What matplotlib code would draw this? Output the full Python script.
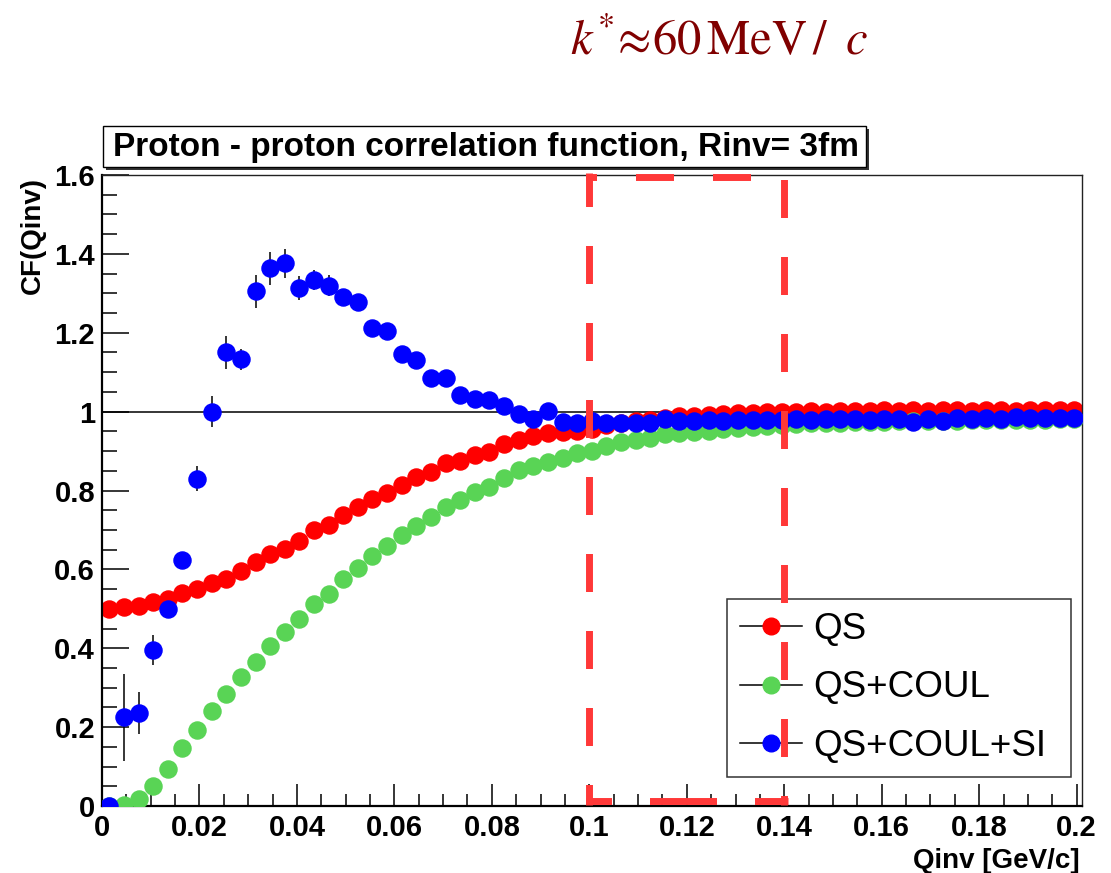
import numpy as np
import matplotlib
matplotlib.use("Agg")
from matplotlib import pyplot as plt
from matplotlib.patches import Rectangle
from matplotlib.lines import Line2D
from matplotlib.ticker import MultipleLocator, FuncFormatter

plt.rcParams['font.family'] = ['Liberation Sans', 'DejaVu Sans']
plt.rcParams['mathtext.fontset'] = 'stix'
plt.rcParams['lines.scale_dashes'] = False

W, H = 1111, 873

# histogram bins: 67 bins of 3 MeV/c
bin_width = 0.003
qinv = (np.arange(67) + 0.5) * bin_width

qs = [0.500, 0.505, 0.507, 0.517, 0.526, 0.541, 0.549, 0.565, 0.576, 0.596,
      0.618, 0.638, 0.652, 0.673, 0.700, 0.713, 0.738, 0.758, 0.779, 0.794,
      0.813, 0.835, 0.846, 0.869, 0.876, 0.889, 0.897, 0.918, 0.928, 0.939,
      0.945, 0.948, 0.952, 0.956, 0.965, 0.970, 0.975, 0.980, 0.985, 0.988,
      0.990, 0.992, 0.994, 0.996, 0.997, 0.998, 0.999, 1.000, 1.001, 1.000,
      1.002, 1.001, 1.002, 1.003, 1.002, 1.003, 1.002, 1.003, 1.003, 1.002,
      1.003, 1.003, 1.002, 1.003, 1.003, 1.003, 1.003]

qs_coul = [0.000, 0.003, 0.019, 0.051, 0.095, 0.146, 0.192, 0.240, 0.285, 0.327,
           0.365, 0.406, 0.440, 0.473, 0.513, 0.538, 0.575, 0.603, 0.634, 0.660,
           0.686, 0.711, 0.732, 0.758, 0.776, 0.796, 0.810, 0.832, 0.851, 0.861,
           0.872, 0.882, 0.894, 0.901, 0.912, 0.922, 0.928, 0.933, 0.944, 0.946,
           0.949, 0.952, 0.955, 0.958, 0.960, 0.963, 0.966, 0.969, 0.970, 0.971,
           0.972, 0.973, 0.973, 0.974, 0.975, 0.975, 0.976, 0.977, 0.977, 0.978,
           0.978, 0.979, 0.979, 0.980, 0.980, 0.981, 0.981]

qs_coul_si = [0.000, 0.225, 0.235, 0.395, 0.500, 0.625, 0.830, 1.000, 1.150, 1.133,
              1.305, 1.363, 1.376, 1.313, 1.334, 1.319, 1.291, 1.278, 1.213, 1.205,
              1.146, 1.130, 1.085, 1.085, 1.041, 1.032, 1.030, 1.013, 0.994, 0.981,
              1.002, 0.973, 0.970, 0.977, 0.970, 0.970, 0.970, 0.972, 0.981, 0.977,
              0.977, 0.978, 0.977, 0.978, 0.979, 0.980, 0.980, 0.981, 0.980, 0.981,
              0.982, 0.981, 0.980, 0.982, 0.981, 0.974, 0.982, 0.976, 0.983, 0.982,
              0.983, 0.981, 0.986, 0.983, 0.984, 0.983, 0.984]

qs_coul_si_err = [0.000, 0.110, 0.053, 0.038, 0.020, 0.020, 0.032, 0.040, 0.042, 0.027,
                  0.041, 0.041, 0.036, 0.030, 0.026, 0.027, 0.020, 0.018, 0.016, 0.016,
                  0.015, 0.015, 0.014, 0.014, 0.013, 0.013, 0.012, 0.012, 0.012, 0.011,
                  0.011, 0.011, 0.011, 0.011, 0.011, 0.011, 0.011, 0.011, 0.011, 0.011,
                  0.010, 0.010, 0.010, 0.010, 0.010, 0.010, 0.010, 0.010, 0.010, 0.010,
                  0.009, 0.009, 0.009, 0.009, 0.009, 0.009, 0.009, 0.009, 0.009, 0.009,
                  0.008, 0.008, 0.008, 0.008, 0.008, 0.008, 0.008]

labels = ["QS", "QS+COUL", "QS+COUL+SI"]
colors = ["#ff0000", "#59d455", "#0000ff"]

# highlighted window [GeV/c]
window = (0.10, 0.14)


def fx(px):
    return px / W


def fy(py):
    return 1 - py / H


fig = plt.figure(figsize=(W / 100, H / 100), dpi=100)
ax = fig.add_axes([fx(102), fy(806), 980 / W, 631 / H])
ax.set_xlim(0, 0.2011)
ax.set_ylim(0, 1.6)

ax.plot([0, 0.15], [1, 1], color="black", lw=1.1, zorder=1)

ms = 12.3
ax.plot(qinv, qs, "o", color=colors[0], ms=ms, zorder=2)
ax.plot(qinv, qs_coul, "o", color=colors[1], ms=ms, zorder=3)
ax.errorbar(qinv, qs_coul_si, yerr=qs_coul_si_err, fmt="o", color=colors[2],
            ecolor="black", elinewidth=1.1, capsize=0, ms=ms, zorder=4)

# axis styling
for side in ["left", "bottom"]:
    ax.spines[side].set_linewidth(1.6)
for side in ["top", "right"]:
    ax.spines[side].set_linewidth(1.0)
    ax.spines[side].set_color("#222222")

fmt = FuncFormatter(lambda v, p: f"{v:g}")
ax.xaxis.set_major_locator(MultipleLocator(0.02))
ax.xaxis.set_minor_locator(MultipleLocator(0.005))
ax.yaxis.set_major_locator(MultipleLocator(0.2))
ax.yaxis.set_minor_locator(MultipleLocator(0.05))
ax.xaxis.set_major_formatter(fmt)
ax.yaxis.set_major_formatter(fmt)
ax.tick_params(axis="both", which="both", direction="in", top=False, right=False,
               width=1.1, labelsize=21)
ax.tick_params(axis="x", which="major", length=15.8, pad=6)
ax.tick_params(axis="x", which="minor", length=8.6)
ax.tick_params(axis="y", which="major", length=19.4, pad=5)
ax.tick_params(axis="y", which="minor", length=10.8)
for lab in ax.get_xticklabels() + ax.get_yticklabels():
    lab.set_fontweight("bold")

fig.text(fx(1080), fy(868), "Qinv [GeV/c]", ha="right", va="baseline",
         fontsize=20, fontweight="bold")
fig.text(fx(33), fy(177), "CF(Qinv)", ha="center", va="top", rotation=90,
         fontsize=20, fontweight="bold")

# title box with shadow
fig.patches.append(Rectangle((fx(106), fy(170)), (866 - 103) / W, (170 - 129) / H,
                             transform=fig.transFigure, facecolor="#333333",
                             edgecolor="none"))
fig.patches.append(Rectangle((fx(103), fy(167)), (866 - 103) / W, (167 - 126) / H,
                             transform=fig.transFigure, facecolor="white",
                             edgecolor="black", lw=1.0))
fig.text(fx(486), fy(147), "Proton - proton correlation function, Rinv= 3fm",
         ha="center", va="center", fontsize=24, fontweight="bold")

fig.text(fx(570), fy(55), r"$k^{*}\!\approx\!60\,\mathrm{MeV}\,/\;\;c$",
         ha="left", va="baseline", fontsize=35, color="#800000")

# legend
handles = [Line2D([0], [0], color="black", lw=1.1, marker="o", ms=12,
                  mfc=c, mec=c) for c in colors]
leg = ax.legend(handles, labels, loc="upper left", mode="expand",
                bbox_to_anchor=(fx(727), fy(774), 344 / W, 175 / H),
                bbox_transform=fig.transFigure, borderaxespad=0,
                fontsize=26.5, handlelength=1.68, handletextpad=0.32,
                labelspacing=0.64, borderpad=0.35, fancybox=False,
                framealpha=1, edgecolor="#333333")
leg.get_frame().set_linewidth(1.1)

# dashed highlight box
red = "#ff3838"
lw = 5.0
hx = 3.5 / 4873
hy = 3.5 / 394.4
y0, y1 = 0.012, 1.596
x0, x1 = window
pt = 0.72
ax.plot([x0, x0], [y1 + hy, y0 - hy], color=red, lw=lw, clip_on=False, zorder=10,
        dash_capstyle="butt", linestyle=(4.5 * pt, (38 * pt, 39 * pt)))
ax.plot([x1, x1], [y1 + hy, y0 - hy], color=red, lw=lw, clip_on=False, zorder=10,
        dash_capstyle="butt", linestyle=(70.5 * pt, (38 * pt, 39 * pt)))
ax.plot([x0 - hx, x1 + hx], [y1, y1], color=red, lw=lw, clip_on=False, zorder=10,
        dash_capstyle="butt", linestyle=(27.5 * pt, (38 * pt, 39 * pt)))
ax.plot([x0 - hx, x1 + hx], [y0, y0], color=red, lw=lw, clip_on=False, zorder=10,
        dash_capstyle="butt",
        linestyle=(0, (25.5 * pt, 38 * pt, 67 * pt, 38 * pt, 40 * pt, 60 * pt)))

fig.savefig("out.png", dpi=100)
